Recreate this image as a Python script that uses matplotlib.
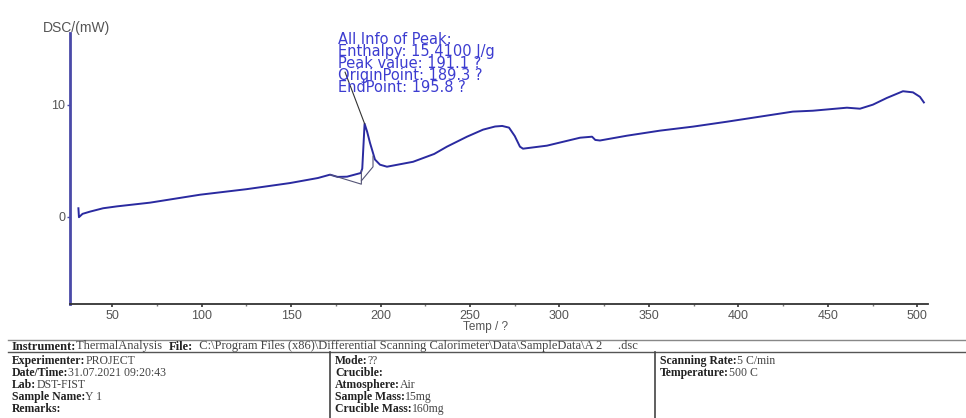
import matplotlib
matplotlib.use("Agg")
import matplotlib.pyplot as plt
from matplotlib.lines import Line2D

# DSC trace (temperature in deg, heat flow in mW)
temp = [31.2, 31.5, 33.5, 37.7, 45, 52.8, 71.2, 99.2, 125, 149.4, 165, 171.8,
        176, 181.3, 189.0, 189.8, 191.1, 192.5, 194.1, 196.9, 199.7, 203.6,
        218.2, 230, 237.1, 248.3, 257.3, 264, 268, 271.8, 275, 277.9, 279.6,
        293.0, 311.5, 318.2, 320, 322.6, 337.7, 356.1, 374.6, 393.6, 412.0,
        430.4, 441.6, 460.6, 467.9, 475.1, 482.9, 491.9, 497.5, 501.4, 503.6]
dsc = [0.75, -0.05, 0.25, 0.45, 0.75, 0.92, 1.25, 1.96, 2.45, 3.0, 3.45, 3.75,
       3.55, 3.57, 3.9, 4.3, 8.3, 7.6, 6.6, 5.1, 4.64, 4.46,
       4.9, 5.6, 6.25, 7.14, 7.77, 8.05, 8.1, 7.95, 7.2, 6.25, 6.07,
       6.34, 7.05, 7.14, 6.85, 6.8, 7.23, 7.68, 8.04, 8.48, 8.93,
       9.38, 9.46, 9.73, 9.64, 10.0, 10.6, 11.2, 11.1, 10.7, 10.2]

# Peak integration construction
base_t = [171.8, 189.3, 189.3]
base_v = [3.75, 2.9, 4.1]
end_t = [189.3, 195.8, 195.8]
end_v = [3.2, 4.45, 5.4]

peak_temp = 191.1
peak_dsc = 8.3
label_anchor = (180.2, 12.9)
peak_info = ["All Info of Peak:",
             "Enthalpy: 15.4100 J/g",
             "Peak value: 191.1 ?",
             "OriginPoint: 189.3 ?",
             "EndPoint: 195.8 ?"]

x_ticks = [50, 100, 150, 200, 250, 300, 350, 400, 450, 500]
x_minor = [75, 125, 175, 225, 275, 325, 375, 425, 475]
y_ticks = [0, 10]

# Header table contents
instrument_line = [("Instrument:", True), ("ThermalAnalysis  ", False), ("File:", True),
                   ("  C:\\Program Files (x86)\\Differential Scanning Calorimeter\\Data\\SampleData\\A 2     .dsc", False)]
col1 = [("Experimenter:", "PROJECT"), ("Date/Time:", "31.07.2021 09:20:43"),
        ("Lab:", "DST-FIST"), ("Sample Name:", "Y 1"), ("Remarks:", "")]
col2 = [("Mode:", "??"), ("Crucible:", ""), ("Atmosphere:", "Air"),
        ("Sample Mass:", "15mg"), ("Crucible Mass:", "160mg")]
col3 = [("Scanning Rate:", "5 C/min"), ("Temperature:", "500 C")]

W, H = 966, 418
fig = plt.figure(figsize=(W / 100, H / 100), dpi=100)
fig.patch.set_facecolor("white")


def fx(px):
    return px / W


def fy(py):
    return 1 - py / H


ax = fig.add_axes([fx(70), fy(304), fx(928) - fx(70), fy(33) - fy(304)])

line_color = "#2a2aa0"
ax.plot(temp, dsc, color=line_color, lw=1.4, solid_joinstyle="round")
ax.plot(base_t, base_v, color="#555577", lw=0.8)
ax.plot(end_t, end_v, color="#555577", lw=0.8)
ax.plot([label_anchor[0], peak_temp], [label_anchor[1], peak_dsc], color="#333333", lw=0.8)

for side in ("top", "right"):
    ax.spines[side].set_visible(False)
ax.spines["left"].set_color("#4a4aa8")
ax.spines["left"].set_linewidth(2.0)
ax.spines["bottom"].set_color("#333333")
ax.spines["bottom"].set_linewidth(1.3)

ax.set_xticks(x_ticks)
ax.set_xticks(x_minor, minor=True)
ax.set_yticks(y_ticks)
ax.set_xlim(26.5, 505.9)
ax.set_ylim(-7.8, 16.4)

ax.text(176.3, 16.45, "\n".join(peak_info), color="#3c3cd0",
        fontsize=10.5, family="DejaVu Sans", linespacing=0.74,
        ha="left", va="top")

ax.tick_params(axis="x", which="major", length=2.5, width=1.2, color="#333333",
               labelsize=9, labelcolor="#555555", pad=1.5)
ax.tick_params(axis="x", which="minor", length=1.5, width=1, color="#777777")
ax.tick_params(axis="y", length=2.5, width=1, color="#4a4aa8",
               labelsize=9, labelcolor="#555555", pad=1)
for lab in ax.get_xticklabels() + ax.get_yticklabels():
    lab.set_family("Liberation Sans")

fig.text(fx(43), fy(28), "DSC/(mW)", fontsize=10, color="#555555",
         family="Liberation Sans", ha="left", va="center")
fig.text(fx(486), fy(327), "Temp / ?", fontsize=8.5, color="#555555",
         family="Liberation Sans", ha="center", va="center")

# Header table frame
for ypx, col in ((340, "#888888"), (352, "#555555")):
    fig.add_artist(Line2D([fx(8), fx(966)], [fy(ypx), fy(ypx)], color=col, lw=1.0))
for xpx in (330, 655):
    fig.add_artist(Line2D([fx(xpx), fx(xpx)], [fy(352), fy(418)], color="#444444", lw=1.2))

renderer = fig.canvas.get_renderer()
serif = "Liberation Serif"


def draw_runs(x0, ypx, runs, size=9):
    x = fx(x0)
    for s, bold in runs:
        if not s:
            continue
        t = fig.text(x, fy(ypx), s, fontsize=size, family=serif,
                     fontweight="bold" if bold else "normal",
                     color="#222222" if bold else "#444444",
                     ha="left", va="center")
        bb = t.get_window_extent(renderer=renderer)
        x = x + bb.width / W


draw_runs(12, 346.5, instrument_line)
rows_y = [361, 373, 385, 397, 409]
for x0, col in ((12, col1), (335, col2), (660, col3)):
    for ypx, (lab, val) in zip(rows_y, col):
        draw_runs(x0, ypx, [(lab, True), (val, False)], size=8.5)

fig.savefig("out.png", dpi=100, facecolor="white")
